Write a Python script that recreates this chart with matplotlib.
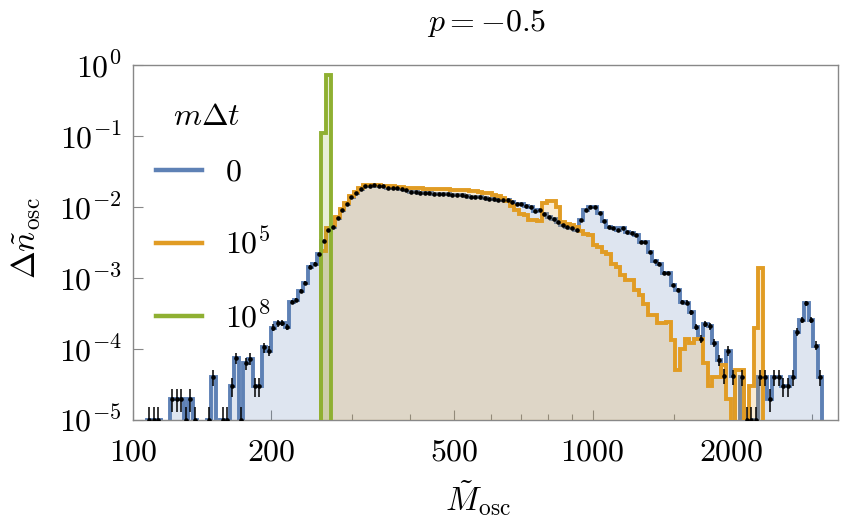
import numpy as np
import matplotlib
matplotlib.use("Agg")
import matplotlib.pyplot as plt
from matplotlib.lines import Line2D
from matplotlib.ticker import LogLocator, NullFormatter

# log-spaced bins, 100 per decade starting at M = 100
bin_exponents = 2 + 0.01 * np.arange(156)

# m*dt = 0 (first bin index 3)
blue_start = 3
blue_vals = [
    1e-5, 1e-5, 1e-5, 0, 0,
    2e-5, 2e-5, 2e-5, 1e-5, 2e-5,
    1e-5, 0, 0, 1e-5, 4e-5,
    0, 1e-5, 1e-5, 3e-5, 7.5e-5,
    1e-5, 6.3e-5, 7.3e-5, 3e-5, 3e-5,
    1.05e-4, 9.5e-5, 2.0e-4, 2.3e-4, 2.35e-4,
    2.05e-4, 4.6e-4, 4.9e-4, 6.6e-4, 8.5e-4,
    1.45e-3, 1.6e-3, 2.2e-3, 3.3e-3, 4.8e-3,
    5.3e-3, 7.1e-3, 9.1e-3, 1.12e-2, 1.4e-2,
    1.6e-2, 1.8e-2, 1.97e-2, 2.0e-2, 2.02e-2,
    2.0e-2, 1.95e-2, 1.83e-2, 1.86e-2, 1.83e-2,
    1.8e-2, 1.74e-2, 1.64e-2, 1.63e-2, 1.6e-2,
    1.6e-2, 1.56e-2, 1.53e-2, 1.5e-2, 1.5e-2,
    1.51e-2, 1.46e-2, 1.47e-2, 1.46e-2, 1.44e-2,
    1.37e-2, 1.4e-2, 1.37e-2, 1.34e-2, 1.31e-2,
    1.29e-2, 1.26e-2, 1.26e-2, 1.24e-2, 1.16e-2,
    1.1e-2, 1.09e-2, 1.04e-2, 9.9e-3, 8.9e-3,
    9.0e-3, 7.9e-3, 7.2e-3, 6.7e-3, 6.1e-3,
    5.6e-3, 5.3e-3, 5.0e-3, 4.8e-3, 6.6e-3,
    9.2e-3, 1.0e-2, 1.0e-2, 8.2e-3, 6.4e-3,
    5.3e-3, 5.0e-3, 4.8e-3, 5.0e-3, 4.5e-3,
    4.3e-3, 4.0e-3, 3.2e-3, 3.2e-3, 2.35e-3,
    1.75e-3, 1.6e-3, 1.19e-3, 1.17e-3, 7.9e-4,
    6.8e-4, 4.6e-4, 4.5e-4, 3.3e-4, 2.05e-4,
    1.4e-4, 2.25e-4, 2.1e-4, 1.23e-4, 7e-5,
    4.2e-5, 9.4e-5, 4.1e-5, 0, 4e-5,
    1e-5, 1e-5, 1e-5, 4e-5, 4e-5,
    2e-5, 4e-5, 4e-5, 3e-5, 3e-5,
    4e-5, 1.75e-4, 2.6e-4, 4.4e-4, 2.6e-4,
    1.12e-4, 4e-5,
]

# m*dt = 1e5 (first bin index 41)
orange_start = 41
orange_vals = [
    2.4e-3, 5.0e-3, 5.6e-3, 7.3e-3, 9.3e-3,
    1.15e-2, 1.42e-2, 1.65e-2, 1.85e-2, 2.02e-2,
    2.05e-2, 2.05e-2, 2.05e-2, 2.0e-2, 1.95e-2,
    1.95e-2, 1.93e-2, 1.9e-2, 1.88e-2, 1.85e-2,
    1.85e-2, 1.83e-2, 1.82e-2, 1.8e-2, 1.8e-2,
    1.8e-2, 1.78e-2, 1.78e-2, 1.76e-2, 1.75e-2,
    1.73e-2, 1.72e-2, 1.7e-2, 1.68e-2, 1.65e-2,
    1.6e-2, 1.58e-2, 1.48e-2, 1.43e-2, 1.33e-2,
    1.2e-2, 1.03e-2, 9.1e-3, 8.0e-3, 7.8e-3,
    6.6e-3, 6.5e-3, 6.4e-3, 1.13e-2, 1.23e-2,
    1.23e-2, 1.0e-2, 6.2e-3, 5.8e-3, 5.6e-3,
    5.3e-3, 4.6e-3, 4.1e-3, 4.0e-3, 2.9e-3,
    2.75e-3, 2.3e-3, 2.2e-3, 1.55e-3, 1.45e-3,
    1.1e-3, 9.5e-4, 9.5e-4, 6.8e-4, 5.8e-4,
    4.3e-4, 3.0e-4, 3.0e-4, 2.3e-4, 2.3e-4,
    2.4e-4, 1.35e-4, 5e-5, 1.0e-4, 1.4e-4,
    1.2e-4, 1.4e-4, 1.4e-4, 6.3e-5, 3e-5,
    4e-5, 4e-5, 6e-5, 2e-5, 0,
    5e-5, 5e-5, 0, 3e-5, 2e-4,
    1.4e-3,
]

# m*dt = 1e8 (first bin index 41)
green_start = 41
green_vals = [0.11, 0.72]

count_unit = 1e-5  # value of a single count

legend_title = r"$m\Delta t$"
legend_labels = [r"$0$", r"$10^5$", r"$10^8$"]
x_major = [100, 200, 500, 1000, 2000]
x_major_labels = [r"$100$", r"$200$", r"$500$", r"$1000$", r"$2000$"]
x_minor = [300, 400, 600, 700, 800, 900, 1500, 3000]
y_major = [1e-5, 1e-4, 1e-3, 1e-2, 1e-1, 1e0]
y_major_labels = [r"$10^{-5}$", r"$10^{-4}$", r"$10^{-3}$",
                  r"$10^{-2}$", r"$10^{-1}$", r"$10^{0}$"]

BLUE = "#5E81B5"
ORANGE = "#E19C24"
GREEN = "#8FB032"

plt.rcParams["mathtext.fontset"] = "cm"
plt.rcParams["font.family"] = ["DejaVu Serif"]

edges = 10 ** bin_exponents
FLOOR = 1e-9


def draw_hist(ax, start, vals, color, z):
    v = np.asarray(vals, dtype=float)
    v_plot = np.where(v > 0, v, FLOOR)
    e = edges[start:start + len(v) + 1]
    ax.stairs(v_plot, e, baseline=FLOOR, fill=True, color=color,
              alpha=0.2, lw=0, zorder=z)
    ax.stairs(v_plot, e, baseline=FLOOR, fill=False, color=color,
              lw=2.8, zorder=z + 0.5)


fig = plt.figure(figsize=(8.43, 5.29), dpi=100)
ax = fig.add_axes([133 / 843, 109 / 529, 704.5 / 843, 355 / 529])
ax.set_xscale("log")
ax.set_yscale("log")

draw_hist(ax, blue_start, blue_vals, BLUE, 2)
draw_hist(ax, orange_start, orange_vals, ORANGE, 3)
draw_hist(ax, green_start, green_vals, GREEN, 4)

# data points with error bars for m*dt = 0
bv = np.asarray(blue_vals, dtype=float)
be = edges[blue_start:blue_start + len(bv) + 1]
centers = np.sqrt(be[:-1] * be[1:])
nz = bv > 0
err = 0.5 * np.sqrt(bv[nz] / count_unit) * count_unit
ax.vlines(centers[nz], bv[nz] - err, bv[nz] + err, color="black",
          lw=1.1, zorder=6)
ax.plot(centers[nz], bv[nz], "o", color="black", ms=2.3, zorder=7)

ax.set_xlim(100, 3410)
ax.set_ylim(1e-5, 1)

ax.set_xticks(x_major)
ax.set_xticklabels(x_major_labels)
ax.set_xticks(x_minor, minor=True)
ax.xaxis.set_minor_formatter(NullFormatter())
ax.set_yticks(y_major)
ax.set_yticklabels(y_major_labels)
ax.yaxis.set_minor_locator(LogLocator(base=10, subs=np.arange(2, 10)))
ax.yaxis.set_minor_formatter(NullFormatter())

ax.tick_params(which="both", direction="in", top=False, right=False,
               color="#888888", labelsize=23, width=0.8)
ax.tick_params(which="major", length=7)
ax.tick_params(which="minor", length=4)
ax.tick_params(axis="x", which="major", pad=12)
ax.tick_params(axis="y", which="major", pad=8)
for sp in ax.spines.values():
    sp.set_color("#888888")
    sp.set_linewidth(1.0)

ax.set_xlabel(r"$\tilde{M}_{\rm osc}$", fontsize=24)
ax.xaxis.set_label_coords(0.49, -0.165)
ax.set_ylabel(r"$\Delta\tilde{n}_{\rm osc}$", fontsize=24)
ax.yaxis.set_label_coords(-0.128, 0.513)

fig.text(487 / 843, 1 - 23 / 529, r"$p=-0.5$", ha="center", va="center",
         fontsize=23)

# legend: title as separate text so it sits close to the entries
handles = [Line2D([], [], color=c, lw=3.2) for c in (BLUE, ORANGE, GREEN)]
leg = ax.legend(handles, legend_labels, loc="upper left",
                bbox_to_anchor=(-0.008, 0.822), frameon=False, fontsize=23,
                handlelength=1.45, handletextpad=0.7, labelspacing=1.3)
leg.set_zorder(10)
ax.text(0.105, 0.856, legend_title, transform=ax.transAxes, ha="center",
        va="center", fontsize=23, zorder=10)

fig.savefig("out.png", dpi=100)
